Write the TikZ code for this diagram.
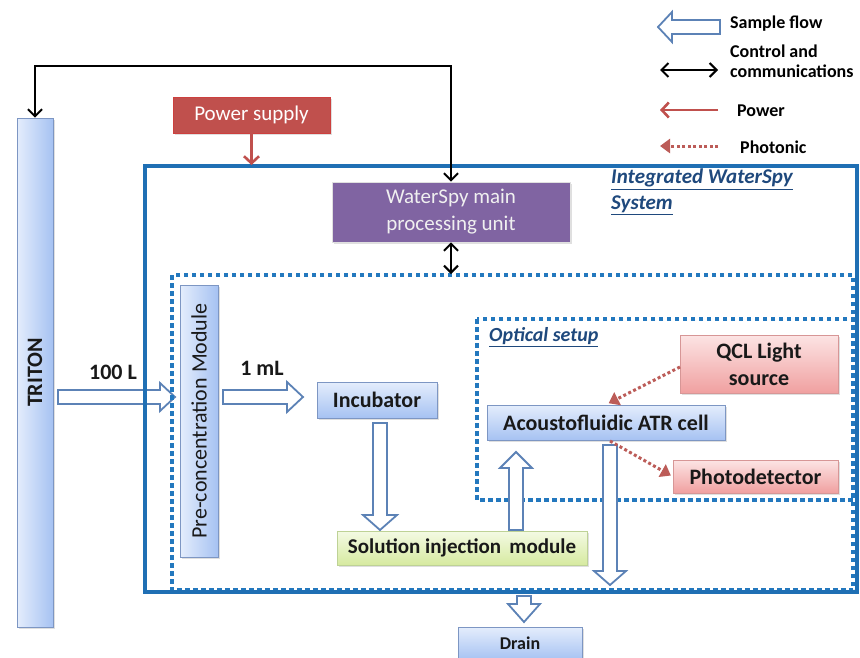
\documentclass[tikz,border=0pt]{standalone}
\usepackage{fontspec}
\setmainfont{Carlito}
\usetikzlibrary{calc,arrows.meta,shadows}
\definecolor{outerblue}{RGB}{31,111,180}
\definecolor{dotblue}{RGB}{35,120,190}
\definecolor{sflowc}{RGB}{92,130,182}
\definecolor{pred}{RGB}{192,80,77}
\definecolor{ppurple}{RGB}{128,100,162}
\definecolor{titleblue}{RGB}{31,73,125}
\definecolor{bluelt}{RGB}{228,237,252}
\definecolor{bluedk}{RGB}{166,194,242}
\definecolor{blueedge}{RGB}{125,150,195}
\definecolor{pinklt}{RGB}{252,228,228}
\definecolor{pinkdk}{RGB}{240,160,160}
\definecolor{pinkedge}{RGB}{215,150,150}
\definecolor{greenlt}{RGB}{244,250,228}
\definecolor{greendk}{RGB}{214,234,160}
\definecolor{greenedge}{RGB}{190,210,150}
\definecolor{photored}{RGB}{188,92,88}
\newcommand\fsz[2]{\fontsize{#1}{#2}\selectfont}
\newcommand\blockarrow[4]{% start, end, head length, wing half width
  \coordinate (baS) at (#1);
  \coordinate (baT) at (#2);
  \coordinate (baH) at ($(baT)!#3!(baS)$);
  \draw[sflowline] ($(baS)!7pt!90:(baT)$) -- ($(baH)!7pt!-90:(baS)$) -- ($(baH)!#4!-90:(baS)$) -- (baT) -- ($(baH)!#4!90:(baS)$) -- ($(baH)!7pt!90:(baS)$) -- ($(baS)!7pt!-90:(baT)$) -- cycle;}
\tikzset{
  sflowline/.style={draw=sflowc, line width=1.8pt, fill=white, line join=miter},
  boxshadow/.style={drop shadow={opacity=0.25, shadow xshift=1.5pt, shadow yshift=-1.5pt}},
  hbluebox/.style={draw=blueedge, line width=0.8pt, top color=bluelt, bottom color=bluedk, inner sep=0pt, boxshadow},
  vbluebox/.style={draw=blueedge, line width=0.8pt, left color=bluelt, right color=bluedk, inner sep=0pt, boxshadow},
  pinkbox/.style={draw=pinkedge, line width=0.8pt, top color=pinklt, bottom color=pinkdk, inner sep=0pt, align=center, boxshadow},
  greenbox/.style={draw=greenedge, line width=0.8pt, top color=greenlt, bottom color=greendk, inner sep=0pt, boxshadow},
  boxtext/.style={text=black!90, font=\fsz{22}{26}\bfseries},
  dotbox/.style={draw=dotblue, line width=3.5pt, dash pattern=on 4.5pt off 3.5pt},
  outerbox/.style={draw=outerblue, line width=4pt},
  ctrl/.style={draw=black, line width=2pt, >={Straight Barb[length=7pt,width=14pt]}, <->},
  pwr/.style={draw=pred, line width=2.6pt, >={Straight Barb[length=7pt,width=15pt]}, ->},
  photon/.style={draw=photored, line width=3pt, dash pattern=on 3pt off 2.5pt, >={Triangle[length=10pt,width=14pt]}, ->},
  legtext/.style={anchor=west, inner sep=0pt, text=black, font=\fsz{18}{20}\bfseries},
  flowlabel/.style={inner sep=0pt, text=black!90, font=\fsz{22}{26}\bfseries},
}
\begin{document}
\begin{tikzpicture}[x=1pt,y=-1pt]
\useasboundingbox (0,0) rectangle (860,657);
\fill[white] (0,0) rectangle (860,657);

% optical setup dotted box (under the flow arrows)
\draw[dotbox] (477,319) rectangle (853,500);

% TRITON
\node[vbluebox, minimum width=36pt, minimum height=509pt] (triton) at (35,372.5) {};
\node[rotate=90, boxtext] (tritonlabel) at (triton.center) {TRITON};

% block arrows (sample flow)
\coordinate (f1s) at (58,397);  \coordinate (f1t) at (175,397);
\coordinate (f2s) at (223,397); \coordinate (f2t) at (303,397);
\coordinate (f3s) at (380,423); \coordinate (f3t) at (380,530);
\coordinate (f4s) at (516,530); \coordinate (f4t) at (516,452);
\coordinate (f5s) at (610,445); \coordinate (f5t) at (610,585);
\coordinate (f6s) at (524,596); \coordinate (f6t) at (524,622);
\blockarrow{f1s}{f1t}{15pt}{14pt}
\blockarrow{f2s}{f2t}{16pt}{15pt}
\blockarrow{f3s}{f3t}{15pt}{17pt}
\blockarrow{f4s}{f4t}{16pt}{16pt}
\blockarrow{f5s}{f5t}{14pt}{16pt}
\blockarrow{f6s}{f6t}{18pt}{16pt}

% big dotted box and outer system box
\draw[dotbox] (172,275) rectangle (853,590);
\draw[outerbox] (145,166) rectangle (857,592);

% main boxes
\node[draw=red!20!pred, line width=0.6pt, fill=pred, minimum width=157pt, minimum height=36pt, inner sep=0pt, boxshadow, text=white, font=\fsz{21}{25}] (power) at (251.5,115) {Power supply};
\node[draw=black!12, line width=0.8pt, fill=ppurple, minimum width=238pt, minimum height=60pt, inner sep=0pt, align=center, boxshadow, text=black!6, font=\fsz{21}{27}] (mpu) at (451,212) {WaterSpy main\\processing unit};
\node[vbluebox, minimum width=38pt, minimum height=272pt] (precon) at (199,421) {};
\node[rotate=90, text=black!90, font=\fsz{22}{26}] (preconlabel) at (precon.center) {Pre-concentration Module};
\node[hbluebox, boxtext, minimum width=120pt, minimum height=36pt] (incub) at (377,400) {Incubator};
\node[hbluebox, boxtext, minimum width=238pt, minimum height=35pt] (atr) at (606,422.5) {Acoustofluidic ATR cell};
\node[pinkbox, boxtext, minimum width=158pt, minimum height=58pt, font=\fsz{22}{27}\bfseries] (qcl) at (759,364) {QCL Light\\source};
\node[pinkbox, boxtext, minimum width=165pt, minimum height=33pt] (photo) at (755.5,476.5) {Photodetector};
\node[greenbox, boxtext, minimum width=250pt, minimum height=34pt, font=\fsz{21}{25}\bfseries] (sol) at (462,548) {Solution injection\, module};
\node[hbluebox, boxtext, minimum width=124pt, minimum height=33pt, font=\fsz{18}{21}\bfseries] (drain) at (520,643.5) {Drain};

% labels
\node[flowlabel] (l100) at (113,372) {100 L};
\node[flowlabel] (l1ml) at (262,368) {1 mL};
\node[anchor=north west, align=left, inner sep=0pt, text=titleblue, font=\fsz{21}{26}\bfseries\itshape] (intlabel) at (611,169) {\underline{Integrated WaterSpy}\\\underline{System}};
\node[anchor=west, inner sep=0pt, text=titleblue, font=\fsz{20}{24}\bfseries\itshape] (optlabel) at (489,337) {\underline{Optical setup}};

% control & communications
\draw[ctrl] (mpu.north) -- ++(0,-116) -| (triton.north);
\coordinate (dtop) at (451,274);
\draw[ctrl] (mpu.south) -- (dtop);

% power
\coordinate (otop) at (251.5,165);
\draw[pwr] (power.south) -- (otop);

% photonic
\coordinate (qclout) at (680,367);
\draw[photon, shorten >=3pt] (qclout) -- (atr.north);
\coordinate (atrout) at (610,441);
\draw[photon, shorten >=2pt] (atrout) -- (photo.west);

% legend
\coordinate (lsa) at (720,27); \coordinate (lsb) at (658,27);
\coordinate (lca) at (660,70); \coordinate (lcb) at (718,70);
\coordinate (lpa) at (718,110); \coordinate (lpb) at (660,110);
\coordinate (lfa) at (718,146); \coordinate (lfb) at (660,146);
\blockarrow{lsa}{lsb}{14pt}{15pt}
\draw[ctrl] (lca) -- (lcb);
\draw[pwr] (lpa) -- (lpb);
\draw[photon] (lfa) -- (lfb);
\node[legtext] (tsample) at (730,24) {Sample flow};
\node[legtext] (tctrl1) at (730,51) {Control and};
\node[legtext] (tctrl2) at (730,71) {communications};
\node[legtext] (tpower) at (737,111) {Power};
\node[legtext] (tphoto) at (740,147) {Photonic};
\end{tikzpicture}
\end{document}
